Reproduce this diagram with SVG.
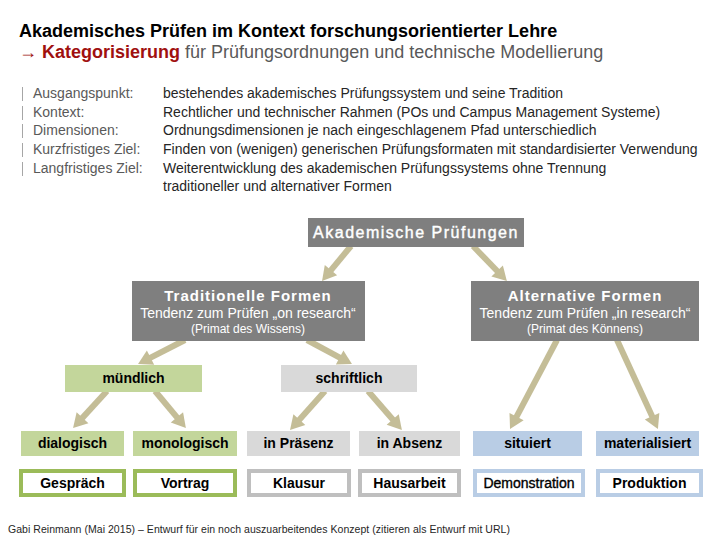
<svg xmlns="http://www.w3.org/2000/svg" width="720" height="540" viewBox="0 0 720 540">
<style>
text{font-family:"Liberation Sans",Arial,sans-serif}
.t1{font-size:18px;font-weight:bold;fill:#000}
.t2{font-size:18px;fill:#595959}
.red{fill:#a0100f;font-weight:bold}
.lab{font-size:14px;fill:#595959}
.val{font-size:14px;fill:#262626}
.dark{fill:#7f7f7f}
.hd{font-size:15px;font-weight:bold;fill:#fff;letter-spacing:1px;text-anchor:middle}
.hd0{font-size:16px;fill:#fff;stroke:#fff;stroke-width:0.4;letter-spacing:1.5px;text-anchor:middle}
.sub{font-size:14px;fill:#fff;text-anchor:middle}
.sub2{font-size:12px;fill:#fff;text-anchor:middle}
.g{fill:#c3d69b}
.gr{fill:#d9d9d9}
.bl{fill:#b9cde5}
.bg{fill:#fff;stroke:#9bbb59;stroke-width:4}
.bgr{fill:#fff;stroke:#bfbfbf;stroke-width:4}
.bbl{fill:#fff;stroke:#b9cde5;stroke-width:4}
.lb{font-size:14px;font-weight:bold;fill:#000;text-anchor:middle}
.ln{font-size:14px;fill:#000;stroke:#000;stroke-width:0.35;text-anchor:middle}
.arr{stroke:#c4bd97;stroke-width:6;fill:none;marker-end:url(#ah)}
.bar{stroke:#a6a6a6;stroke-width:1}
</style>
<defs>
<marker id="ah" markerUnits="userSpaceOnUse" markerWidth="14" markerHeight="16" refX="7" refY="8" orient="auto" overflow="visible">
<path d="M0,0 L14,8 L0,16 z" fill="#c4bd97"/>
</marker>
</defs>
<rect width="720" height="540" fill="#fff"/>
<g id="title">
<text class="t1" x="19" y="37">Akademisches Prüfen im Kontext forschungsorientierter Lehre</text>
<text class="t2" x="19" y="58"><tspan fill="#a0100f">→ </tspan><tspan class="red">Kategorisierung</tspan> für Prüfungsordnungen und technische Modellierung</text>
</g>
<g id="list">
<line class="bar" x1="22.5" y1="87" x2="22.5" y2="101"/>
<line class="bar" x1="22.5" y1="106" x2="22.5" y2="120"/>
<line class="bar" x1="22.5" y1="124" x2="22.5" y2="138"/>
<line class="bar" x1="22.5" y1="143" x2="22.5" y2="157"/>
<line class="bar" x1="22.5" y1="162" x2="22.5" y2="176"/>
<text class="lab" x="33" y="98">Ausgangspunkt:</text>
<text class="lab" x="33" y="117">Kontext:</text>
<text class="lab" x="33" y="135">Dimensionen:</text>
<text class="lab" x="33" y="154">Kurzfristiges Ziel:</text>
<text class="lab" x="33" y="173">Langfristiges Ziel:</text>
<text class="val" x="163" y="98">bestehendes akademisches Prüfungssystem und seine Tradition</text>
<text class="val" x="163" y="117">Rechtlicher und technischer Rahmen (POs und Campus Management Systeme)</text>
<text class="val" x="163" y="135">Ordnungsdimensionen je nach eingeschlagenem Pfad unterschiedlich</text>
<text class="val" x="163" y="154">Finden von (wenigen) generischen Prüfungsformaten mit standardisierter Verwendung</text>
<text class="val" x="163" y="173">Weiterentwicklung des akademischen Prüfungssystems ohne Trennung</text>
<text class="val" x="163" y="191">traditioneller und alternativer Formen</text>
</g>
<g id="connectors">
<line class="arr" x1="351" y1="246" x2="326.5" y2="275.6"/>
<line class="arr" x1="473" y1="246" x2="502" y2="276"/>
<line class="arr" x1="185" y1="340" x2="144.3" y2="360.9"/>
<line class="arr" x1="307" y1="340" x2="345.8" y2="360.8"/>
<line class="arr" x1="557" y1="340" x2="513.3" y2="422.8"/>
<line class="arr" x1="617" y1="340" x2="655" y2="422.6"/>
<line class="arr" x1="107" y1="391" x2="77.8" y2="422.9"/>
<line class="arr" x1="155" y1="391" x2="181.4" y2="422.7"/>
<line class="arr" x1="325" y1="391" x2="294.7" y2="424.9"/>
<line class="arr" x1="368" y1="391" x2="397.3" y2="424.8"/>
</g>
<g id="akademische">
<rect class="dark" x="308" y="218" width="216" height="29"/>
<text class="hd0" x="416" y="238">Akademische Prüfungen</text>
</g>
<g id="traditionelle">
<rect class="dark" x="132" y="281" width="233" height="60"/>
<text class="hd" x="248" y="301">Traditionelle Formen</text>
<text class="sub" x="248" y="318">Tendenz zum Prüfen „on research“</text>
<text class="sub2" x="248" y="333">(Primat des Wissens)</text>
</g>
<g id="alternative">
<rect class="dark" x="471" y="281" width="228" height="60"/>
<text class="hd" x="585" y="301">Alternative Formen</text>
<text class="sub" x="585" y="318">Tendenz zum Prüfen „in research“</text>
<text class="sub2" x="585" y="333">(Primat des Könnens)</text>
</g>
<g id="muendlich">
<rect class="g" x="65" y="365" width="137" height="27"/>
<text class="lb" x="133.5" y="383">mündlich</text>
</g>
<g id="schriftlich">
<rect class="gr" x="281" y="365" width="136" height="27"/>
<text class="lb" x="349" y="383">schriftlich</text>
</g>
<g id="dialogisch">
<rect class="g" x="21" y="431" width="103" height="25"/>
<text class="lb" x="72.5" y="448">dialogisch</text>
</g>
<g id="monologisch">
<rect class="g" x="133" y="431" width="104" height="25"/>
<text class="lb" x="185" y="448">monologisch</text>
</g>
<g id="praesenz">
<rect class="gr" x="247" y="431" width="103" height="25"/>
<text class="lb" x="298.5" y="448">in Präsenz</text>
</g>
<g id="absenz">
<rect class="gr" x="359" y="431" width="101" height="25"/>
<text class="lb" x="409.5" y="448">in Absenz</text>
</g>
<g id="situiert">
<rect class="bl" x="473" y="431" width="109" height="25"/>
<text class="lb" x="527.5" y="448">situiert</text>
</g>
<g id="materialisiert">
<rect class="bl" x="596" y="431" width="103" height="25"/>
<text class="lb" x="647.5" y="448">materialisiert</text>
</g>
<g id="gespraech">
<rect class="bg" x="21" y="471" width="103" height="24"/>
<text class="lb" x="72.5" y="488">Gespräch</text>
</g>
<g id="vortrag">
<rect class="bg" x="135" y="471" width="100" height="24"/>
<text class="lb" x="185" y="488">Vortrag</text>
</g>
<g id="klausur">
<rect class="bgr" x="249" y="471" width="100" height="24"/>
<text class="lb" x="299" y="488">Klausur</text>
</g>
<g id="hausarbeit">
<rect class="bgr" x="360" y="471" width="99" height="24"/>
<text class="lb" x="409.5" y="488">Hausarbeit</text>
</g>
<g id="demonstration">
<rect class="bbl" x="475" y="471" width="108" height="24"/>
<text class="ln" x="529" y="488">Demonstration</text>
</g>
<g id="produktion">
<rect class="bbl" x="598" y="471" width="103" height="24"/>
<text class="lb" x="649.5" y="488">Produktion</text>
</g>
<g id="footer">
<text x="8" y="533" font-size="10.5" fill="#262626" textLength="502" lengthAdjust="spacing">Gabi Reinmann (Mai 2015) – Entwurf für ein noch auszuarbeitendes Konzept (zitieren als Entwurf mit URL)</text>
</g>
</svg>
